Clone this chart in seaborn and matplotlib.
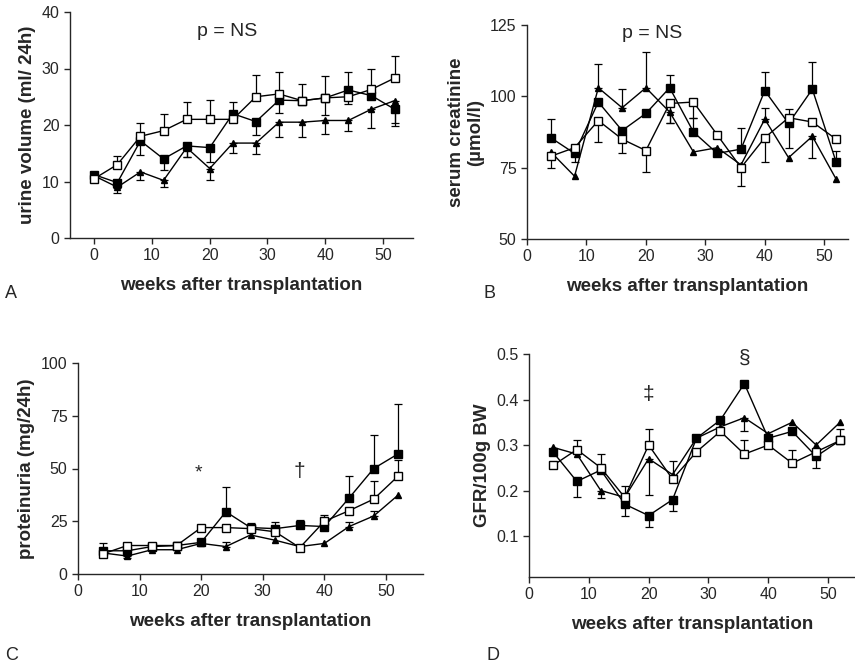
import numpy as np
import pandas as pd
import matplotlib
matplotlib.use("Agg")
import matplotlib.pyplot as plt
import seaborn as sns

# =========================
# dados
# =========================
semanas_a = [0, 4, 8, 12, 16, 20, 24, 28, 32, 36, 40, 44, 48, 52]
semanas = [4, 8, 12, 16, 20, 24, 28, 32, 36, 40, 44, 48, 52]

# A - volume urinario (ml/24h)
urina_aberto = [10.5, 13, 18, 19, 21, 21, 21, 25, 25.5, 24.3, 24.8, 25, 26.3, 28.3]
urina_cheio = [11.2, 9.8, 17.2, 14, 16.3, 16, 22, 20.6, 24.4, 24.3, 24.8, 26.2, 25.2, 22.8]
urina_tri = [11, 9, 11.7, 10.2, 16, 12.3, 16.8, 16.8, 20.5, 20.5, 20.8, 20.8, 22.8, 24.3]
# erro com sinal: + barra para cima, - barra para baixo
urina_aberto_err = [0, 1.6, 2.3, 3, 3, 3.4, 0, 3.8, 3.9, 2.9, 3.8, 4.3, 3.7, 4]
urina_cheio_err = [0, -1, -2.5, -2, -2, -2.5, 2, -2.4, -2.2, 0, -3, -2.5, 0, -3]
urina_tri_err = [0, -1, -1.4, -1.2, -1.7, -2.1, -1.8, -2, -2.6, -2.7, -2.4, -1.9, -3.4, -4]

# B - creatinina serica (umol/l)
creat_cheio = [85.5, 80, 98, 88, 94, 103, 87.5, 80, 81.5, 102, 90.5, 102.5, 77]
creat_tri = [80.5, 72, 103, 96, 103, 94.5, 80.5, 82, 76, 92, 78.5, 86, 71]
creat_aberto = [79, 82, 91.5, 85, 81, 97.5, 98, 86.5, 75, 85.5, 92.5, 91, 85]
creat_cheio_err = [6.5, 0, 0, 0, 0, 4.5, 5, 0, 7.5, 6.5, -8.5, 9.5, 4]
creat_tri_err = [0, 0, 8.5, 6.5, 12.5, -4, 0, 0, 0, 4, 0, -7.5, 0]
creat_aberto_err = [-4, -5, -7.5, -5, -7.5, -7, -5.5, 0, -6.5, -8.5, 3, 0, 0]

# C - proteinuria (mg/24h)
prot_cheio = [11, 11, 13, 13.5, 15, 29.5, 22, 21.5, 23, 22.5, 36, 50, 57]
prot_aberto = [9.5, 13.5, 13.5, 13.5, 22, 22, 21.5, 20, 12.5, 25, 30, 35.5, 46.5]
prot_tri = [10, 8.5, 11.5, 11.5, 14.5, 13, 18.5, 16, 13, 14.5, 22.5, 27.5, 37.5]
prot_cheio_err = [3.5, 0, 0, 1.5, 0, 11.5, 0, 3, 2.5, 0, 10.5, 16, 23.5]
prot_aberto_err = [0, 0, 0, 0, 0, 0, 2.5, 0, 0, 3, 0, 8.5, 7.5]
prot_tri_err = [-1.5, -1, 0, 0, 0, 2, 0, 0, 0, 0, 2, 2.5, 0]

# D - GFR/100g BW
gfr_cheio = [0.285, 0.22, 0.245, 0.17, 0.145, 0.18, 0.315, 0.355, 0.435, 0.315, 0.33, 0.275, 0.31]
gfr_tri = [0.295, 0.28, 0.2, 0.185, 0.27, 0.235, 0.315, 0.34, 0.36, 0.325, 0.35, 0.3, 0.35]
gfr_aberto = [0.255, 0.29, 0.25, 0.185, 0.3, 0.225, 0.285, 0.33, 0.28, 0.3, 0.26, 0.285, 0.31]
gfr_cheio_err = [0, -0.035, 0, -0.025, -0.025, -0.025, 0, 0, 0, 0, 0, -0.025, 0.025]
gfr_tri_err = [0, 0, -0.017, 0, -0.08, 0, 0, 0, -0.03, 0, 0, 0, 0]
gfr_aberto_err = [0, 0.02, 0.03, 0.025, 0.035, 0.04, 0, 0, 0.03, 0, 0.03, 0, 0]

# =========================
# estilo
# =========================
sns.set_style("ticks")
plt.rcParams['font.family'] = ['Liberation Sans', 'DejaVu Sans']
plt.rcParams['axes.linewidth'] = 1.0

fig = plt.figure(figsize=(8.55, 6.66), dpi=100)
W, H = 855, 666


def eixo(esq, topo, dir_, base):
    return fig.add_axes([esq / W, 1 - base / H, (dir_ - esq) / W, (base - topo) / H])


def serie(ax, x, y, err, marcador, preenchido):
    df = pd.DataFrame({"x": x, "y": y})
    sns.lineplot(data=df, x="x", y="y", ax=ax, color="black", lw=1.0,
                 marker=marcador, markersize=6 if marcador == "s" else 5,
                 markerfacecolor="black" if preenchido else "white",
                 markeredgecolor="black", markeredgewidth=1.0, zorder=3)
    err = np.array(err, dtype=float)
    baixo = np.where(err < 0, -err, 0)
    cima = np.where(err > 0, err, 0)
    m = err != 0
    ax.errorbar(np.array(x)[m], np.array(y)[m], yerr=[baixo[m], cima[m]], fmt="none",
                ecolor="black", elinewidth=0.9, capsize=3, capthick=0.9, zorder=2)


def formatar(ax, xlim, ylim, yticks, ylabel):
    ax.set_xlim(*xlim)
    ax.set_ylim(*ylim)
    ax.set_xticks([0, 10, 20, 30, 40, 50])
    ax.set_yticks(yticks)
    ax.tick_params(labelsize=11.5, length=4, width=1, direction="out")
    ax.set_xlabel("weeks after transplantation", fontsize=13.5, fontweight="bold", labelpad=10)
    ax.set_ylabel(ylabel, fontsize=13.5, fontweight="bold", labelpad=4)
    sns.despine(ax=ax)


# --- A ---
axA = eixo(70, 12, 413, 238)
serie(axA, semanas_a, urina_tri, urina_tri_err, "^", True)
serie(axA, semanas_a, urina_cheio, urina_cheio_err, "s", True)
serie(axA, semanas_a, urina_aberto, urina_aberto_err, "s", False)
formatar(axA, (-4.2, 55.2), (0, 40), [0, 10, 20, 30, 40], "urine volume (ml/ 24h)")
axA.text(23, 36.5, "p = NS", ha="center", va="center", fontsize=14)

# --- B ---
axB = eixo(527, 25, 848, 239)
serie(axB, semanas, creat_tri, creat_tri_err, "^", True)
serie(axB, semanas, creat_cheio, creat_cheio_err, "s", True)
serie(axB, semanas, creat_aberto, creat_aberto_err, "s", False)
formatar(axB, (0, 54), (50, 125), [50, 75, 100, 125], "serum creatinine\n(\u00b5mol/l)")
axB.text(21, 122, "p = NS", ha="center", va="center", fontsize=14)

# --- C ---
axC = eixo(78, 363, 423, 574)
serie(axC, semanas, prot_tri, prot_tri_err, "^", True)
serie(axC, semanas, prot_cheio, prot_cheio_err, "s", True)
serie(axC, semanas, prot_aberto, prot_aberto_err, "s", False)
formatar(axC, (0, 56), (0, 100), [0, 25, 50, 75, 100], "proteinuria (mg/24h)")
axC.text(19.5, 48, "*", ha="center", va="center", fontsize=14)
axC.text(36, 48.5, "\u2020", ha="center", va="center", fontsize=15)

# --- D ---
axD = eixo(529, 354, 855, 577)
serie(axD, semanas, gfr_tri, gfr_tri_err, "^", True)
serie(axD, semanas, gfr_cheio, gfr_cheio_err, "s", True)
serie(axD, semanas, gfr_aberto, gfr_aberto_err, "s", False)
formatar(axD, (0, 54.5), (0.01, 0.5), [0.1, 0.2, 0.3, 0.4, 0.5], "GFR/100g BW")
axD.text(20, 0.41, "\u2021", ha="center", va="center", fontsize=15)
axD.text(36, 0.49, "\u00a7", ha="center", va="center", fontsize=15)

# letras dos paineis
fig.text(5 / W, 1 - 293 / H, "A", fontsize=13, va="center")
fig.text(483 / W, 1 - 293 / H, "B", fontsize=13, va="center")
fig.text(5 / W, 1 - 655 / H, "C", fontsize=13, va="center")
fig.text(487 / W, 1 - 655 / H, "D", fontsize=13, va="center")

fig.savefig("out.png", dpi=100)
